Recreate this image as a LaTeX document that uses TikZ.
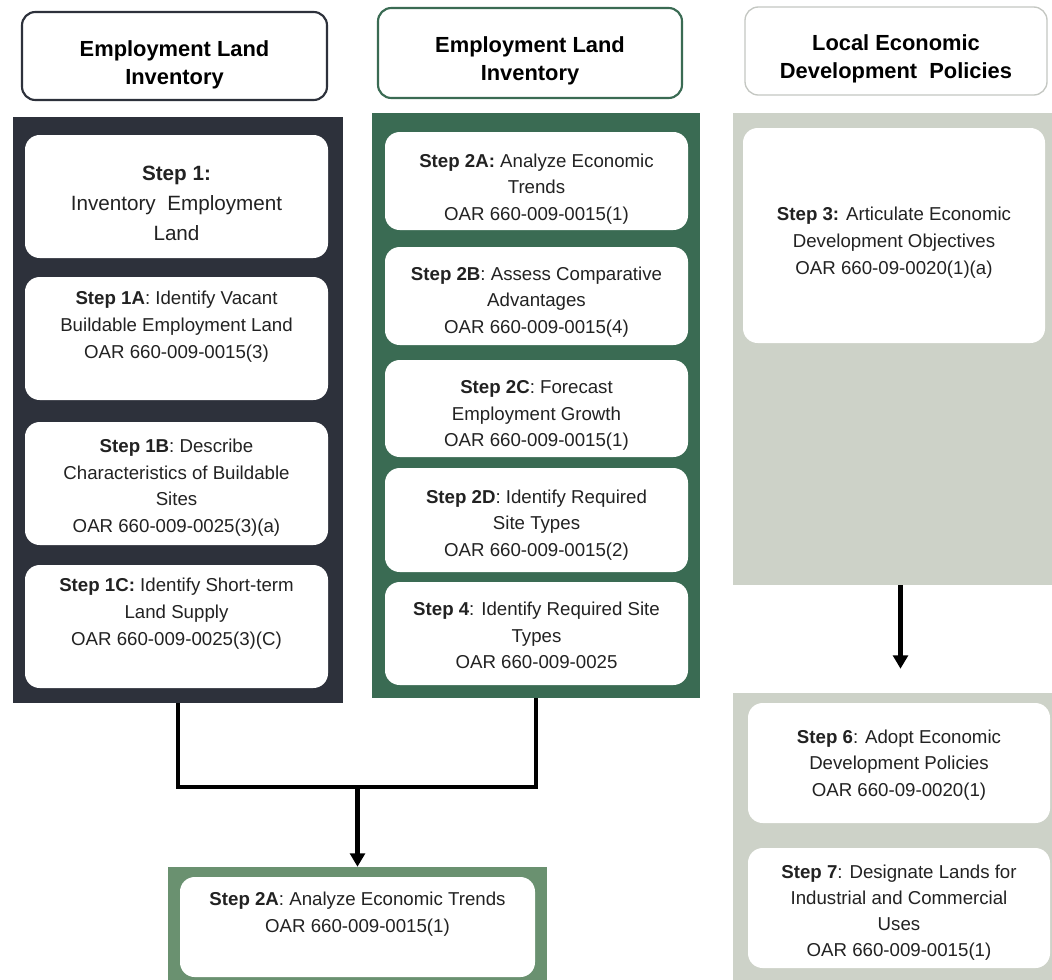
\documentclass[tikz,border=0pt]{standalone}
\usepackage{fontspec}
\setmainfont{Liberation Sans}
\usetikzlibrary{arrows.meta}
\definecolor{dk}{HTML}{2D313B}
\definecolor{gn}{HTML}{3A6B53}
\definecolor{lg}{HTML}{CDD2C8}
\definecolor{bgn}{HTML}{6A9170}
\definecolor{hb}{HTML}{C4C7C2}
\definecolor{tx}{HTML}{222222}
% \bx{box style}{text style}{name}{x1}{y1}{x2}{y2}{text shift down (px)}{text}
\newcommand\bx[9]{%
  \node[#1, minimum width={(#6-#4)*0.75pt}, minimum height={(#7-#5)*0.75pt}]
    (#3) at ({(#4+#6)/2},{(#5+#7)/2}) {};
  \node[#2] (#3-t) at ([yshift={-(#8)*0.75pt}]#3.center) {#9};}
\begin{document}
\begin{tikzpicture}[x=0.75pt,y=-0.75pt,
  hdr/.style={inner sep=0pt, rounded corners=10pt, line width=1.6pt, fill=white},
  htext/.style={inner sep=0pt, align=center, text=black, font=\bfseries\fontsize{16.4}{21}\selectfont},
  pan/.style={inner sep=0pt, draw=none},
  stepbox/.style={inner sep=0pt, fill=white, rounded corners=11pt},
  stext/.style={inner sep=0pt, align=center, text=tx, font=\fontsize{14}{20}\selectfont},
  conn/.style={line width=3.2pt, draw=black},
  tip/.style={-{Triangle[width=11pt,length=10pt]}}
]
\useasboundingbox (0,0) rectangle (1052,979);
\fill[white] (0,0) rectangle (1052,979);

% headers
\bx{hdr, draw=dk}{htext}{h1}{22}{12}{327}{100}{9}{Employment Land\\Inventory}
\bx{hdr, draw=gn}{htext}{h2}{378}{8}{682}{98}{8}{Employment Land\\Inventory}
\bx{hdr, draw=hb, line width=1pt}{htext}{h3}{745}{7}{1047}{95}{8}{Local Economic\\Development\ \ Policies}

% panels
\node[pan, fill=dk, minimum width=330*0.75pt, minimum height=586*0.75pt] (p1) at (178,410) {};
\node[pan, fill=gn, minimum width=328*0.75pt, minimum height=585*0.75pt] (p2) at (536,405.5) {};
\node[pan, fill=lg, minimum width=335*0.75pt, minimum height=472*0.75pt] (p3) at (900.5,349) {};
\node[pan, fill=lg, minimum width=335*0.75pt, minimum height=302*0.75pt] (p4) at (900.5,844) {};
\node[pan, fill=bgn, minimum width=379*0.75pt, minimum height=128*0.75pt] (pb) at (357.5,931) {};

% panel 1
\bx{stepbox}{stext, font=\fontsize{15.5}{22.5}\selectfont}{s1}{25}{135}{328}{258}{7}
  {\textbf{Step 1:}\\Inventory\ \ Employment\\Land}
\bx{stepbox}{stext}{s1a}{25}{277}{328}{400}{-12}
  {\textbf{Step 1A}: Identify Vacant\\Buildable Employment Land\\OAR 660-009-0015(3)}
\bx{stepbox}{stext}{s1b}{25}{422}{328}{545}{4}
  {\textbf{Step 1B}: Describe\\Characteristics of Buildable\\Sites\\OAR 660-009-0025(3)(a)}
\bx{stepbox}{stext}{s1c}{25}{565}{328}{688}{-13}
  {\textbf{Step 1C:} Identify Short-term\\Land Supply\\OAR 660-009-0025(3)(C)}

% panel 2
\bx{stepbox}{stext}{s2a}{385}{132}{688}{230}{8}
  {\textbf{Step 2A:} Analyze Economic\\Trends\\OAR 660-009-0015(1)}
\bx{stepbox}{stext}{s2b}{385}{247}{688}{345}{6}
  {\textbf{Step 2B}: Assess Comparative\\Advantages\\OAR 660-009-0015(4)}
\bx{stepbox}{stext}{s2c}{385}{360}{688}{457}{7}
  {\textbf{Step 2C}: Forecast\\Employment Growth\\OAR 660-009-0015(1)}
\bx{stepbox}{stext}{s2d}{385}{468}{688}{572}{5}
  {\textbf{Step 2D}: Identify Required\\Site Types\\OAR 660-009-0015(2)}
\bx{stepbox}{stext}{s4}{385}{582}{688}{685}{2}
  {\textbf{Step 4}: Identify Required Site\\Types\\OAR 660-009-0025}

% panel 3
\bx{stepbox}{stext}{s3}{743}{128}{1045}{343}{7}
  {\textbf{Step 3:} Articulate Economic\\Development Objectives\\OAR 660-09-0020(1)(a)}

% panel 4
\bx{stepbox}{stext}{s6}{748}{703}{1050}{823}{2}
  {\textbf{Step 6}: Adopt Economic\\Development Policies\\OAR 660-09-0020(1)}
\bx{stepbox}{stext, font=\fontsize{14}{19.5}\selectfont}{s7}{748}{848}{1050}{968}{5}
  {\textbf{Step 7}: Designate Lands for\\Industrial and Commercial\\Uses\\OAR 660-009-0015(1)}

% bottom
\bx{stepbox}{stext}{sb}{180}{877}{535}{977}{-13}
  {\textbf{Step 2A}: Analyze Economic Trends\\OAR 660-009-0015(1)}

% connectors
\coordinate (j) at (357.5,787);
\draw[conn] (p1.south) |- (j) -| (p2.south);
\draw[conn, tip] (j) -- (pb.north);
\draw[conn, tip, shorten >=18pt] (p3.south) -- (p4.north);
\end{tikzpicture}
\end{document}
